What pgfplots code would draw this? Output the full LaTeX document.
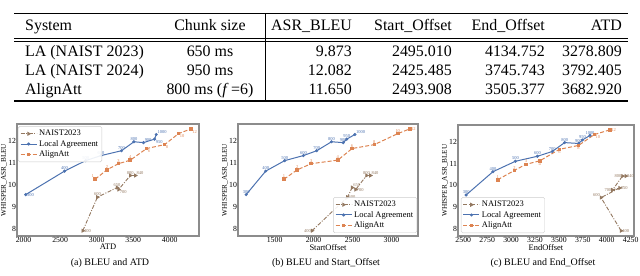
\documentclass[border=0pt]{standalone}
\usepackage{pgfplots}
\pgfplotsset{compat=1.18}
\usepackage{fontspec}
\setmainfont{Liberation Serif}
\definecolor{cblue}{HTML}{4C72B0}
\definecolor{corange}{HTML}{DD8452}
\definecolor{cbrown}{HTML}{937860}
\definecolor{framec}{HTML}{8C8C8C}
\def\ancs{south}\def\ancn{north}\def\ance{east}\def\ancw{west}
\def\ancsw{south west}\def\ancse{south east}\def\ancnw{north west}\def\ancne{north east}

\pgfplotsset{
  myaxis/.style={
    scale only axis, anchor=south west,
    axis line style={draw=framec, line width=1.1bp},
    major tick length=0pt,
    tick label style={font=\fontsize{7.8}{8}\selectfont, inner sep=0.8bp},
    /pgf/number format/assume math mode=true,
    /pgf/number format/1000 sep={},
    ymin=7.66, ymax=12.77, ytick={8,9,10,11,12},
    xlabel style={font=\fontsize{8.5}{9}\selectfont, at={(axis description cs:0.5,0)}, anchor=north, yshift=-8bp, inner sep=0pt},
    ylabel style={font=\fontsize{7.3}{8}\selectfont, inner sep=0.5bp},
    ylabel={WHISPER\_ASR\_BLEU},
    legend style={draw=black!20, rounded corners=1.5bp, fill=white, fill opacity=0.9, text opacity=1, font=\fontsize{8.5}{9.5}\selectfont, inner sep=1.8bp, row sep=-1bp},
    legend cell align=left,
    legend image code/.code={\draw[mark repeat=2,mark phase=2] plot coordinates {(0bp,0bp) (8bp,0bp) (16bp,0bp)};},
    nodes near coords, point meta=explicit symbolic,
    visualization depends on={value \thisrow{a} \as \anc},
    every node near coord/.append style={font=\fontsize{4.5}{5}\selectfont, inner sep=0.8bp, anchor=\csname anc\anc\endcsname},
  },
  la/.style={color=cblue, line width=1bp, mark=*, mark size=1bp, every node near coord/.append style={text=cblue}},
  aa/.style={color=corange, line width=1bp, dash pattern=on 4bp off 2bp, mark=square*, mark size=1.3bp, mark options={solid}, every node near coord/.append style={text=corange}},
  na/.style={color=cbrown, line width=0.9bp, dash pattern=on 4bp off 1.5bp on 1bp off 1.5bp, mark=triangle*, mark size=1.6bp, mark options={solid, rotate=-90}, every node near coord/.append style={text=cbrown}},
}

\begin{document}
\begin{tikzpicture}
\useasboundingbox (0,0) rectangle (640bp,-276bp);

% ---------- table ----------
\begin{scope}[every node/.style={font=\fontsize{16}{19}\selectfont, inner sep=0pt}]
\draw[line width=1.2bp] (14bp,-13.5bp) -- (628bp,-13.5bp);
\draw[line width=0.6bp] (14bp,-38bp) -- (628bp,-38bp);
\draw[line width=0.6bp] (14bp,-41bp) -- (628bp,-41bp);
\draw[line width=1.2bp] (14bp,-101bp) -- (628bp,-101bp);
\draw[line width=0.6bp] (265bp,-13.5bp) -- (265bp,-101bp);
% header
\node[anchor=base west] at (25bp,-30.5bp) {System};
\node[anchor=base] at (210bp,-30.5bp) {Chunk size};
\node[anchor=base east] at (352bp,-30.5bp) {ASR\_BLEU};
\node[anchor=base east] at (452bp,-30.5bp) {Start\_Offset};
\node[anchor=base east] at (545bp,-30.5bp) {End\_Offset};
\node[anchor=base east] at (622bp,-30.5bp) {ATD};
% rows
\node[anchor=base west] at (25bp,-56bp) {LA (NAIST 2023)};
\node[anchor=base] at (210bp,-56bp) {650 ms};
\node[anchor=base east] at (352bp,-56bp) {9.873};
\node[anchor=base east] at (452bp,-56bp) {2495.010};
\node[anchor=base east] at (545bp,-56bp) {4134.752};
\node[anchor=base east] at (622bp,-56bp) {3278.809};
\node[anchor=base west] at (25bp,-75bp) {LA (NAIST 2024)};
\node[anchor=base] at (210bp,-75bp) {950 ms};
\node[anchor=base east] at (352bp,-75bp) {12.082};
\node[anchor=base east] at (452bp,-75bp) {2425.485};
\node[anchor=base east] at (545bp,-75bp) {3745.743};
\node[anchor=base east] at (622bp,-75bp) {3792.405};
\node[anchor=base west] at (25bp,-94bp) {AlignAtt};
\node[anchor=base] at (210bp,-94bp) {800 ms (\textit{f}\,=6)};
\node[anchor=base east] at (352bp,-94bp) {11.650};
\node[anchor=base east] at (452bp,-94bp) {2493.908};
\node[anchor=base east] at (545bp,-94bp) {3505.377};
\node[anchor=base east] at (622bp,-94bp) {3682.920};
\end{scope}

% ---------- plot (a) ----------
\begin{axis}[myaxis, at={(17bp,-236bp)}, width=182bp, height=112bp,
  xmin=1910, xmax=4400, xtick={2000,2500,3000,3500,4000}, xlabel={ATD},
  legend style={at={(0.006,0.98)}, anchor=north west}]
\addplot[na] table[x=x,y=y,meta=l] {
x y l a
2810 7.90 400 w
3010 9.43 600 s
3279 9.87 650 s
3300 9.78 700 nw
3460 10.42 800 s
3530 10.42 840 sw
};
\addlegendentry{NAIST2023}
\addplot[la] table[x=x,y=y,meta=l] {
x y l a
2030 9.55 300 w
2560 10.62 400 s
2850 11.10 500 s
3060 11.33 600 s
3340 11.55 700 s
3510 11.96 800 s
3640 11.92 900 sw
3792 12.08 950 nw
3815 12.29 1000 sw
};
\addlegendentry{Local Agreement}
\addplot[aa] table[x=x,y=y,meta=l] {
x y l a
2980 10.25 1 se
3140 10.68 2 s
3300 10.96 3 s
3460 11.12 4 s
3683 11.65 6 nw
3930 11.83 8 nw
4120 12.33 10 nw
4290 12.55 12 nw
};
\addlegendentry{AlignAtt}
\end{axis}

% ---------- plot (b) ----------
\begin{axis}[myaxis, at={(238bp,-236bp)}, width=180bp, height=112bp,
  xmin=1030, xmax=3340, xtick={1500,2000,2500,3000}, xlabel={StartOffset},
  legend style={at={(0.995,0.027)}, anchor=south east}]
\addplot[na] table[x=x,y=y,meta=l] {
x y l a
1980 7.90 400 e
2435 9.43 600 w
2495 9.87 650 sw
2540 9.78 700 w
2680 10.42 800 s
2730 10.42 840 sw
};
\addlegendentry{NAIST2023}
\addplot[la] table[x=x,y=y,meta=l] {
x y l a
1135 9.55 300 s
1385 10.62 400 s
1630 11.10 500 s
1870 11.33 600 s
2040 11.55 700 s
2230 11.96 800 s
2380 11.92 900 s
2425 12.08 950 s
2530 12.29 1000 sw
};
\addlegendentry{Local Agreement}
\addplot[aa] table[x=x,y=y,meta=l] {
x y l a
1620 10.25 1 s
1790 10.68 2 s
1970 10.96 3 s
2310 11.12 4 s
2494 11.65 6 s
2780 11.83 8 s
3080 12.33 10 s
3235 12.55 12 w
};
\addlegendentry{AlignAtt}
\end{axis}

% ---------- plot (c) ----------
\begin{axis}[myaxis, at={(458bp,-236bp)}, width=176bp, height=111bp,
  xmin=2445, xmax=4285, xtick={2500,2750,3000,3250,3500,3750,4000,4250}, xlabel={EndOffset},
  legend style={at={(0.017,0.027)}, anchor=south west}]
\addplot[na] table[x=x,y=y,meta=l] {
x y l a
4150 7.90 400 w
3940 9.43 600 se
4135 9.87 650 w
4060 9.78 700 e
4165 10.42 800 e
4200 10.42 840 w
};
\addlegendentry{NAIST2023}
\addplot[la] table[x=x,y=y,meta=l] {
x y l a
2530 9.55 300 s
2810 10.62 400 s
3045 11.10 500 s
3275 11.33 600 s
3430 11.55 700 s
3560 11.96 800 s
3705 11.92 900 s
3746 12.08 950 s
3825 12.29 1000 s
};
\addlegendentry{Local Agreement}
\addplot[aa] table[x=x,y=y,meta=l] {
x y l a
2860 10.25 1 s
3035 10.68 2 s
3155 10.96 3 s
3300 11.12 4 n
3505 11.65 6 n
3705 11.83 8 n
3870 12.33 10 nw
4035 12.55 12 w
};
\addlegendentry{AlignAtt}
\end{axis}

% ---------- captions ----------
\begin{scope}[every node/.style={font=\fontsize{10}{12}\selectfont, inner sep=0pt}]
\node at (110bp,-263bp) {(a) BLEU and ATD};
\node at (326bp,-263bp) {(b) BLEU and Start\_Offset};
\node at (543bp,-263bp) {(c) BLEU and End\_Offset};
\end{scope}
\end{tikzpicture}
\end{document}
